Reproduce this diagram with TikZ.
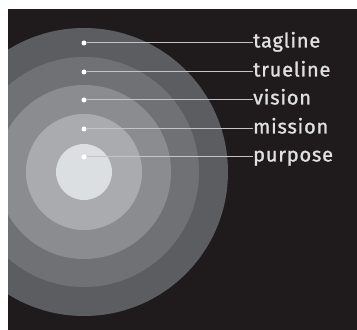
\documentclass[tikz,border=0pt]{standalone}
\usepackage{fontspec}
\setmainfont{Fira Sans}
\newfontfamily\lblfont{Fira Sans}[FakeBold=1.2,LetterSpace=4]
\definecolor{bg}{HTML}{1F1B1C}
\definecolor{ringA}{HTML}{5B5D60}
\definecolor{ringB}{HTML}{6F7174}
\definecolor{ringC}{HTML}{8A8C8F}
\definecolor{ringD}{HTML}{A9ABAE}
\definecolor{ringE}{HTML}{DCDFE1}
\definecolor{linecol}{HTML}{C4C4C4}
\begin{document}
\begin{tikzpicture}[x=1pt,y=1pt,
  dot/.style={circle,fill=white,inner sep=0pt,minimum size=5pt},
  lbl/.style={anchor=base west,inner sep=0pt,text=white!88!black,font=\lblfont\fontsize{20}{20}\selectfont},
  leader/.style={draw=linecol,line width=1pt}]
\useasboundingbox (0,0) rectangle (357,330);
\fill[white] (0,0) rectangle (357,330);
\fill[bg] (8,0) rectangle (357,321);
\begin{scope}
\clip (8,0) rectangle (357,321);
\fill[ringA] (84,158) circle (144);
\fill[ringB] (84,158) circle (115);
\fill[ringC] (84,158) circle (87);
\fill[ringD] (84,158) circle (58);
\fill[ringE] (84,158) circle (28);
\end{scope}
\node[dot] (d1) at (84,287) {};
\node[dot] (d2) at (84,258) {};
\node[dot] (d3) at (84,230) {};
\node[dot] (d4) at (84,201) {};
\node[dot] (d5) at (84,173) {};
\node[lbl] (t1) at (253,282.5) {tagline};
\node[lbl] (t2) at (253,253.5) {trueline};
\node[lbl] (t3) at (253,225.5) {vision};
\node[lbl] (t4) at (253,196.5) {mission};
\node[lbl] (t5) at (253,168.5) {purpose};
\foreach \i in {1,...,5}{\draw[leader] (d\i) -- (d\i -| t\i.west);}
\end{tikzpicture}
\end{document}
